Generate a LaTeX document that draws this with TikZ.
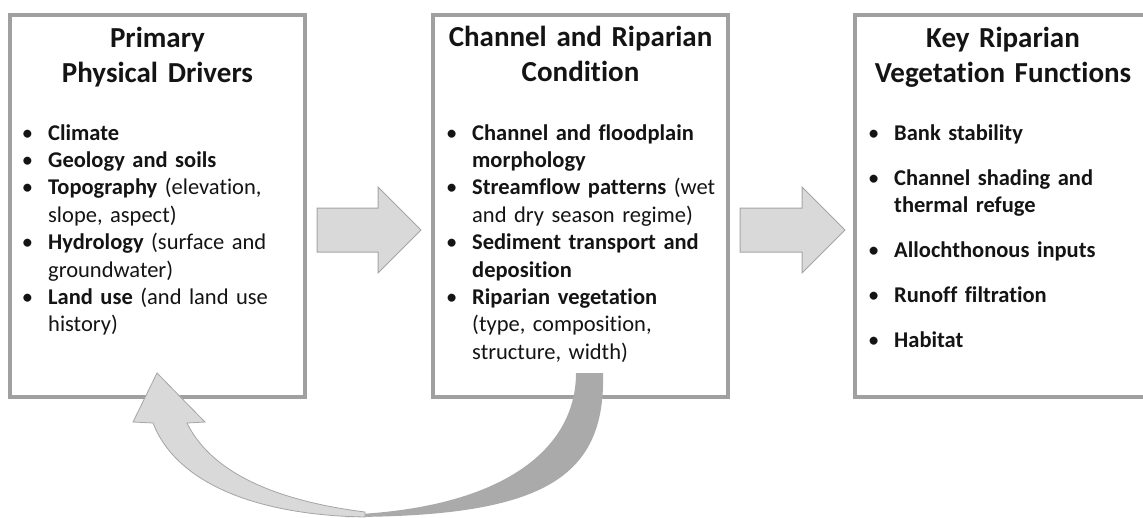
\documentclass[tikz,border=0pt]{standalone}
\usepackage{fontspec}
\setmainfont{Carlito}[Ligatures=NoCommon]
\usetikzlibrary{calc}
\definecolor{boxline}{RGB}{160,160,160}
\definecolor{arrfill}{RGB}{217,217,217}
\definecolor{arrline}{RGB}{165,165,165}
\definecolor{darkband}{RGB}{170,170,170}
\definecolor{txt}{RGB}{20,20,20}
\newcommand{\bul}{\llap{\textbullet\hspace{15pt}}}
\begin{document}
\begin{tikzpicture}[x=1pt,y=-1pt,
  panel/.style={draw=boxline, line width=4pt, fill=white, minimum width=295pt, minimum height=382pt, inner sep=0pt, outer sep=0pt, anchor=north west},
  ttl/.style={anchor=base, font=\fontsize{29}{35}\selectfont\bfseries, inner sep=0pt, align=center, text width=295pt, text=txt},
  itm/.style={anchor=base west, font=\fontsize{22.5}{27.4}\selectfont, inner sep=0pt, align=left, text width=260pt, text=txt},
  blockarrow/.style={fill=arrfill, draw=arrline, line width=1pt, line join=miter}]
\useasboundingbox[fill=white] (0,0) rectangle (1143,517);

% panels
\node[panel] (b1) at (10,15) {};
\node[panel] (b2) at (433,15) {};
\node[panel] (b3) at (855,15) {};

% titles
\node[ttl] (t1) at (157.5,47) {Primary\\Physical Drivers};
\node[ttl] (t2) at (580.5,46) {Channel and Riparian\\Condition};
\node[ttl] (t3) at (1003,47) {Key Riparian\\Vegetation Functions};

% box 1 items
\node[itm] (a1) at (48,140) {\bul\textbf{Climate}};
\node[itm] (a2) at (48,167.4) {\bul\textbf{Geology and soils}};
\node[itm] (a3) at (48,194.8) {\bul\textbf{Topography} (elevation,\\slope, aspect)};
\node[itm] (a4) at (48,249.6) {\bul\textbf{Hydrology} (surface and\\groundwater)};
\node[itm] (a5) at (48,304.4) {\bul\textbf{Land use} (and land use\\history)};

% box 2 items
\node[itm] (c1) at (472,140) {\bul\textbf{Channel and floodplain}\\\textbf{morphology}};
\node[itm] (c2) at (472,194.8) {\bul\textbf{Streamflow patterns} (wet\\and dry season regime)};
\node[itm] (c3) at (472,249.6) {\bul\textbf{Sediment transport and}\\\textbf{deposition}};
\node[itm] (c4) at (472,304.4) {\bul\textbf{Riparian vegetation}\\(type, composition,\\structure, width)};

% box 3 items
\node[itm] (k1) at (894,140) {\bul\textbf{Bank stability}};
\node[itm] (k2) at (894,185) {\bul\textbf{Channel shading and}\\\textbf{thermal refuge}};
\node[itm] (k3) at (894,257) {\bul\textbf{Allochthonous inputs}};
\node[itm] (k4) at (894,302) {\bul\textbf{Runoff filtration}};
\node[itm] (k5) at (894,347) {\bul\textbf{Habitat}};

% straight block arrows
\coordinate (s1) at ($(b1.east)+(12,24)$);
\coordinate (e1) at ($(b2.west)+(-12,24)$);
\coordinate (s2) at ($(b2.east)+(12,24)$);
\coordinate (e2) at ($(b3.west)+(-10,24)$);
\foreach \s/\e in {s1/e1, s2/e2}{
  \draw[blockarrow] ($(\s)+(0,-22)$) -- ($(\e)+(-43,-22)$) -- ($(\e)+(-43,-43)$) -- (\e)
     -- ($(\e)+(-43,43)$) -- ($(\e)+(-43,22)$) -- ($(\s)+(0,22)$) -- cycle;
}

% curved feedback arrow (from box 2 back to box 1)
\coordinate (fbA) at (576,373);
\coordinate (fbB) at (603,373);
\coordinate (fbTip) at (157,373);
\fill[darkband] (fbA) .. controls (576,445) and (510,505) .. (360,514)
   -- (345,517) .. controls (540,517) and (606,480) .. (fbB) -- cycle;
\filldraw[fill=arrfill, draw=arrline, line width=0.8pt, line join=miter]
   (365,517) .. controls (250,515) and (175,480) .. (153,423)
   -- (133,422) -- (fbTip) -- (205,422) -- (187,423)
   .. controls (210,470) and (270,500) .. (365,512) -- cycle;
\end{tikzpicture}
\end{document}
